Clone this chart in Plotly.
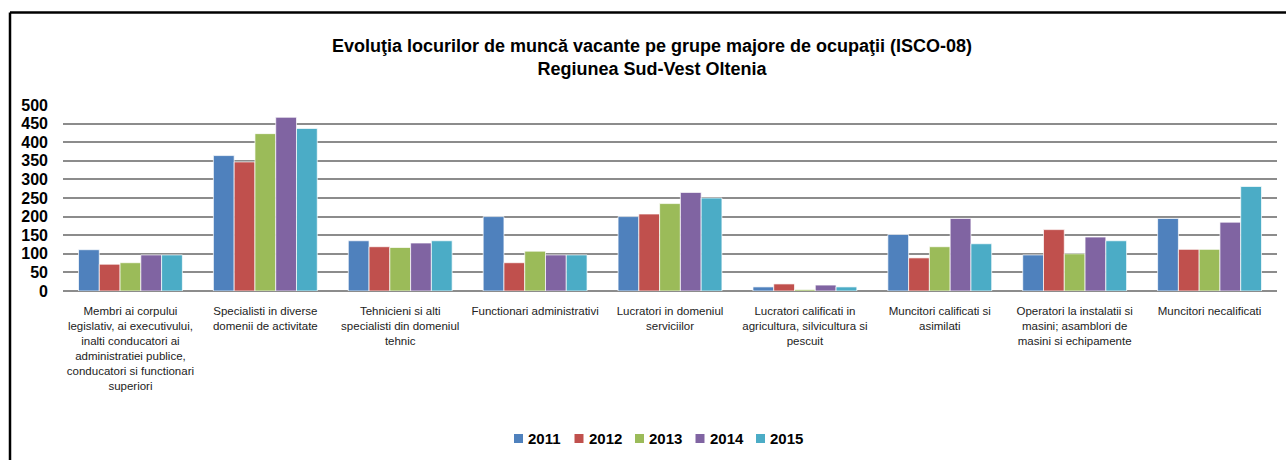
import plotly.graph_objects as go

categories = [
    "Membri ai corpului<br>legislativ, ai executivului,<br>inalti conducatori ai<br>administratiei publice,<br>conducatori si functionari<br>superiori",
    "Specialisti in diverse<br>domenii de activitate",
    "Tehnicieni si alti<br>specialisti din domeniul<br>tehnic",
    "Functionari administrativi",
    "Lucratori in domeniul<br>serviciilor",
    "Lucratori calificati in<br>agricultura, silvicultura si<br>pescuit",
    "Muncitori calificati si<br>asimilati",
    "Operatori la instalatii si<br>masini; asamblori de<br>masini si echipamente",
    "Muncitori necalificati",
]
years = ["2011", "2012", "2013", "2014", "2015"]
v2011 = [111, 364, 135, 200, 200, 11, 152, 97, 195]
v2012 = [72, 347, 119, 76, 207, 19, 89, 165, 112]
v2013 = [76, 423, 117, 107, 235, 4, 119, 100, 112]
v2014 = [97, 467, 129, 97, 265, 16, 195, 145, 185]
v2015 = [97, 437, 135, 97, 250, 11, 127, 135, 281]
series = [v2011, v2012, v2013, v2014, v2015]
colors = ["#4F81BD", "#C0504D", "#9BBB59", "#8064A2", "#4BACC6"]
y_ticks = [0, 50, 100, 150, 200, 250, 300, 350, 400, 450, 500]

FONT = "Liberation Sans, Arial, sans-serif"

W, H = 1286, 460
ML, MR, MT, MB = 63, 9, 105, 169
PW, PH = W - ML - MR, H - MT - MB


def px_x(px):
    return (px - ML) / PW


def px_y(py):
    return (H - MB - py) / PH


fig = go.Figure()
for name, vals, col in zip(years, series, colors):
    fig.add_trace(go.Bar(
        x=categories, y=vals, name=name, showlegend=False,
        marker=dict(color=col, line=dict(color="rgba(255,255,255,0.7)", width=1)),
    ))

# legend drawn as colored squares + bold labels, centered below the plot
shapes = [
    dict(type="line", xref="paper", yref="paper", x0=px_x(10), x1=px_x(1290), y0=px_y(12.5), y1=px_y(12.5),
         line=dict(color="black", width=2.5)),
    dict(type="line", xref="paper", yref="paper", x0=px_x(10), x1=px_x(10), y0=px_y(12.5), y1=px_y(470),
         line=dict(color="black", width=2.5)),
]
annotations = []
leg_start, leg_step, leg_y = 514, 60.5, 438.5
for i, (name, col) in enumerate(zip(years, colors)):
    sx = leg_start + i * leg_step
    shapes.append(dict(type="rect", xref="paper", yref="paper",
                       x0=px_x(sx), x1=px_x(sx + 9), y0=px_y(leg_y - 4.5), y1=px_y(leg_y + 4.5),
                       fillcolor=col, line=dict(width=0)))
    annotations.append(dict(xref="paper", yref="paper", x=px_x(sx + 12), y=px_y(leg_y),
                            xanchor="left", yanchor="middle", showarrow=False, text="<b>%s</b>" % name,
                            font=dict(family=FONT, size=15, color="black")))

fig.update_layout(
    width=W, height=H,
    margin=dict(l=ML, r=MR, t=MT, b=MB, autoexpand=False),
    paper_bgcolor="white", plot_bgcolor="white",
    barmode="group", bargap=0.23, bargroupgap=0,
    showlegend=False,
    title=dict(
        text="<b>Evoluţia locurilor de muncă vacante pe grupe majore de ocupaţii (ISCO-08)<br>Regiunea Sud-Vest Oltenia</b>",
        x=0.507, xanchor="center", y=0.887, yanchor="middle",
        font=dict(family=FONT, size=18, color="black"),
    ),
    font=dict(family=FONT, color="black"),
    xaxis=dict(
        tickangle=0, automargin=False,
        tickfont=dict(family=FONT, size=11.5, color="#222"),
        showline=True, linecolor="#8c8c8c", linewidth=1,
        ticks="", showgrid=False, ticklabelstandoff=9,
    ),
    yaxis=dict(
        range=[0, 500], tickvals=y_ticks, automargin=False,
        tickfont=dict(family=FONT, size=16, color="black", weight="bold"),
        showgrid=True, gridcolor="#8c8c8c", gridwidth=1.5,
        zeroline=True, zerolinecolor="#8c8c8c", zerolinewidth=1.5,
        ticks="", showline=False, ticklabelstandoff=14,
    ),
    shapes=shapes,
    annotations=annotations,
)

fig.write_html("out.html", config={"displayModeBar": False},
               post_script="document.body.style.margin='0';")
